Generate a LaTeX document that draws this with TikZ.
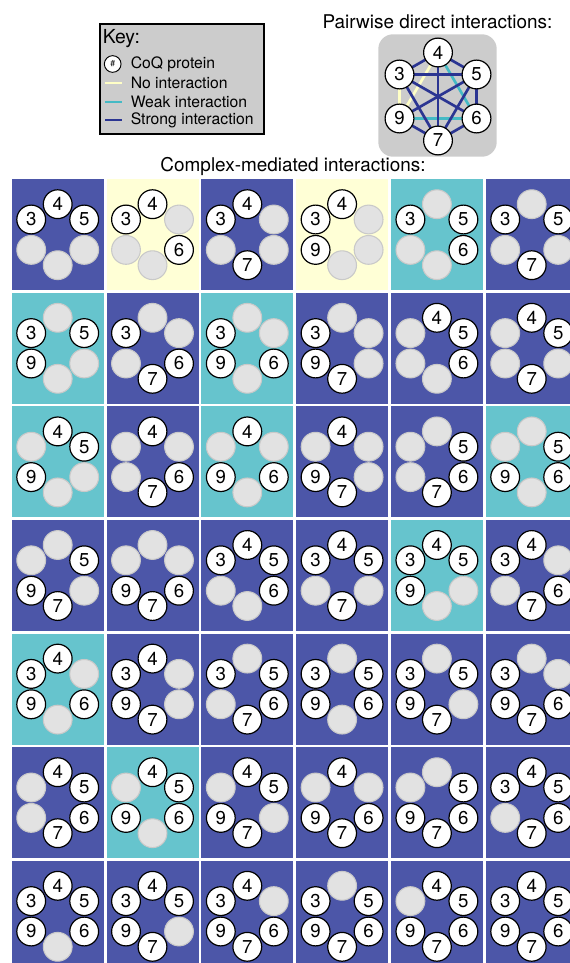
\documentclass[tikz,border=0pt]{standalone}
\usepackage{fontspec}
\setmainfont{TeX Gyre Heros}
\usepackage{tikz}
\usetikzlibrary{calc,backgrounds}
\definecolor{BgStrong}{HTML}{4C56A8}
\definecolor{BgWeak}{HTML}{66C4CD}
\definecolor{BgNone}{HTML}{FFFFD6}
\definecolor{LinkStrong}{HTML}{2B3592}
\definecolor{LinkWeak}{HTML}{45BAC5}
\definecolor{LinkNone}{HTML}{FFFFC6}
\definecolor{CoqGray}{HTML}{E2E2E2}
\definecolor{CoqRim}{HTML}{C9C9C9}
\definecolor{PanelGray}{HTML}{CCCCCC}
\tikzset{
  protein/.style={circle,draw=black,line width=0.9pt,fill=white,minimum size=21.6pt,inner sep=0pt,font=\fontsize{14}{14}\selectfont},
  vacant/.style={circle,draw=CoqRim,line width=0.8pt,fill=CoqGray,minimum size=21.6pt,inner sep=0pt},
  strongedge/.style={line width=2pt,draw=LinkStrong},
  weakedge/.style={line width=2pt,draw=LinkWeak},
  noneedge/.style={line width=2pt,draw=LinkNone},
  headtext/.style={font=\fontsize{14.2}{16}\selectfont,inner sep=0pt},
  keytext/.style={font=\fontsize{11.8}{13}\selectfont,inner sep=0pt,anchor=west}
}
\makeatletter
% #1 column, #2 row, #3 background, #4 proteins present
\newcommand{\coqcell}[4]{%
  \fill[#3] (11.7+94.8*#1,179.2+113.6*#2) rectangle ++(92,111);
  \coordinate (ring#1#2) at (57.7+94.8*#1,234.7+113.6*#2);
  \foreach \p/\dx/\dy in {4/0/-30.5,5/26.5/-15.2,6/26.5/15.2,7/0/30.5,9/-26.5/15.2,3/-26.5/-15.2}{%
    \edef\coqtest{\noexpand\in@{\p}{#4}}\coqtest
    \ifin@
      \node[protein] (c#1#2-\p) at ($(ring#1#2)+(\dx,\dy)$) {\p};
    \else
      \node[vacant] (c#1#2-\p) at ($(ring#1#2)+(\dx,\dy)$) {};
    \fi}}
\makeatother

\begin{document}
\begin{tikzpicture}[x=0.75pt,y=-0.75pt]
  \clip (0,0) rectangle (570,963);

  \draw[fill=PanelGray,line width=1.1pt] (100,24) rectangle (264,134);
  \node[headtext,anchor=west,font=\fontsize{14.5}{16}\selectfont] (keyhead) at (102.5,38.5) {Key:};
  \node[protein,minimum size=12.5pt,line width=0.7pt,font=\fontsize{6.5}{7}\selectfont] (keycoq) at (112.7,64) {\#};
  \node[keytext] (kcoq) at (130.5,64) {CoQ protein};
  \node[keytext] (knone) at (130.5,83) {No interaction};
  \node[keytext] (kweak) at (130.5,102) {Weak interaction};
  \node[keytext] (kstrong) at (130.5,120) {Strong interaction};
  \draw[LinkNone,line width=1.6pt] ($(knone.west)+(-25.5,0)$) -- ++(16.7,0);
  \draw[LinkWeak,line width=1.6pt] ($(kweak.west)+(-25.5,0)$) -- ++(16.7,0);
  \draw[LinkStrong,line width=1.6pt] ($(kstrong.west)+(-25.5,0)$) -- ++(16.7,0);

  \node[headtext] (pairhead) at (437.5,21.7) {Pairwise direct interactions:};
  \node[protein] (p4) at (438,52.5) {4};
  \node[protein] (p5) at (476.5,74.5) {5};
  \node[protein] (p6) at (476.5,118.5) {6};
  \node[protein] (p7) at (438,140.5) {7};
  \node[protein] (p9) at (399.5,118.5) {9};
  \node[protein] (p3) at (399.5,74.5) {3};
  \begin{scope}[on background layer]
    \fill[PanelGray,rounded corners=11pt] (378.3,34.3) rectangle (496.7,156.7);
    \draw[noneedge] (p3.center) -- (p9.center);
    \draw[noneedge] (p4.center) -- (p9.center);
    \draw[weakedge] (p4.center) -- (p6.center);
    \draw[weakedge] (p9.center) -- (p6.center);
    \draw[strongedge] (p3.center) -- (p4.center);
    \draw[strongedge] (p4.center) -- (p5.center);
    \draw[strongedge] (p5.center) -- (p6.center);
    \draw[strongedge] (p6.center) -- (p7.center);
    \draw[strongedge] (p7.center) -- (p9.center);
    \draw[strongedge] (p3.center) -- (p5.center);
    \draw[strongedge] (p3.center) -- (p6.center);
    \draw[strongedge] (p3.center) -- (p7.center);
    \draw[strongedge] (p4.center) -- (p7.center);
    \draw[strongedge] (p5.center) -- (p7.center);
    \draw[strongedge] (p5.center) -- (p9.center);
  \end{scope}

  \node[headtext] (cxhead) at (293,166.7) {Complex-mediated interactions:};
  \coqcell{0}{0}{BgStrong}{345}\coqcell{1}{0}{BgNone}{346}\coqcell{2}{0}{BgStrong}{347}
  \coqcell{3}{0}{BgNone}{349}\coqcell{4}{0}{BgWeak}{356}\coqcell{5}{0}{BgStrong}{357}
  \coqcell{0}{1}{BgWeak}{359}\coqcell{1}{1}{BgStrong}{367}\coqcell{2}{1}{BgWeak}{369}
  \coqcell{3}{1}{BgStrong}{379}\coqcell{4}{1}{BgStrong}{456}\coqcell{5}{1}{BgStrong}{457}
  \coqcell{0}{2}{BgWeak}{459}\coqcell{1}{2}{BgStrong}{467}\coqcell{2}{2}{BgWeak}{469}
  \coqcell{3}{2}{BgStrong}{479}\coqcell{4}{2}{BgStrong}{567}\coqcell{5}{2}{BgWeak}{569}
  \coqcell{0}{3}{BgStrong}{579}\coqcell{1}{3}{BgStrong}{679}\coqcell{2}{3}{BgStrong}{3456}
  \coqcell{3}{3}{BgStrong}{3457}\coqcell{4}{3}{BgWeak}{3459}\coqcell{5}{3}{BgStrong}{3467}
  \coqcell{0}{4}{BgWeak}{3469}\coqcell{1}{4}{BgStrong}{3479}\coqcell{2}{4}{BgStrong}{3567}
  \coqcell{3}{4}{BgStrong}{3569}\coqcell{4}{4}{BgStrong}{3579}\coqcell{5}{4}{BgStrong}{3679}
  \coqcell{0}{5}{BgStrong}{4567}\coqcell{1}{5}{BgWeak}{4569}\coqcell{2}{5}{BgStrong}{4579}
  \coqcell{3}{5}{BgStrong}{4679}\coqcell{4}{5}{BgStrong}{5679}\coqcell{5}{5}{BgStrong}{34567}
  \coqcell{0}{6}{BgStrong}{34569}\coqcell{1}{6}{BgStrong}{34579}\coqcell{2}{6}{BgStrong}{34679}
  \coqcell{3}{6}{BgStrong}{35679}\coqcell{4}{6}{BgStrong}{45679}\coqcell{5}{6}{BgStrong}{345679}
\end{tikzpicture}
\end{document}
